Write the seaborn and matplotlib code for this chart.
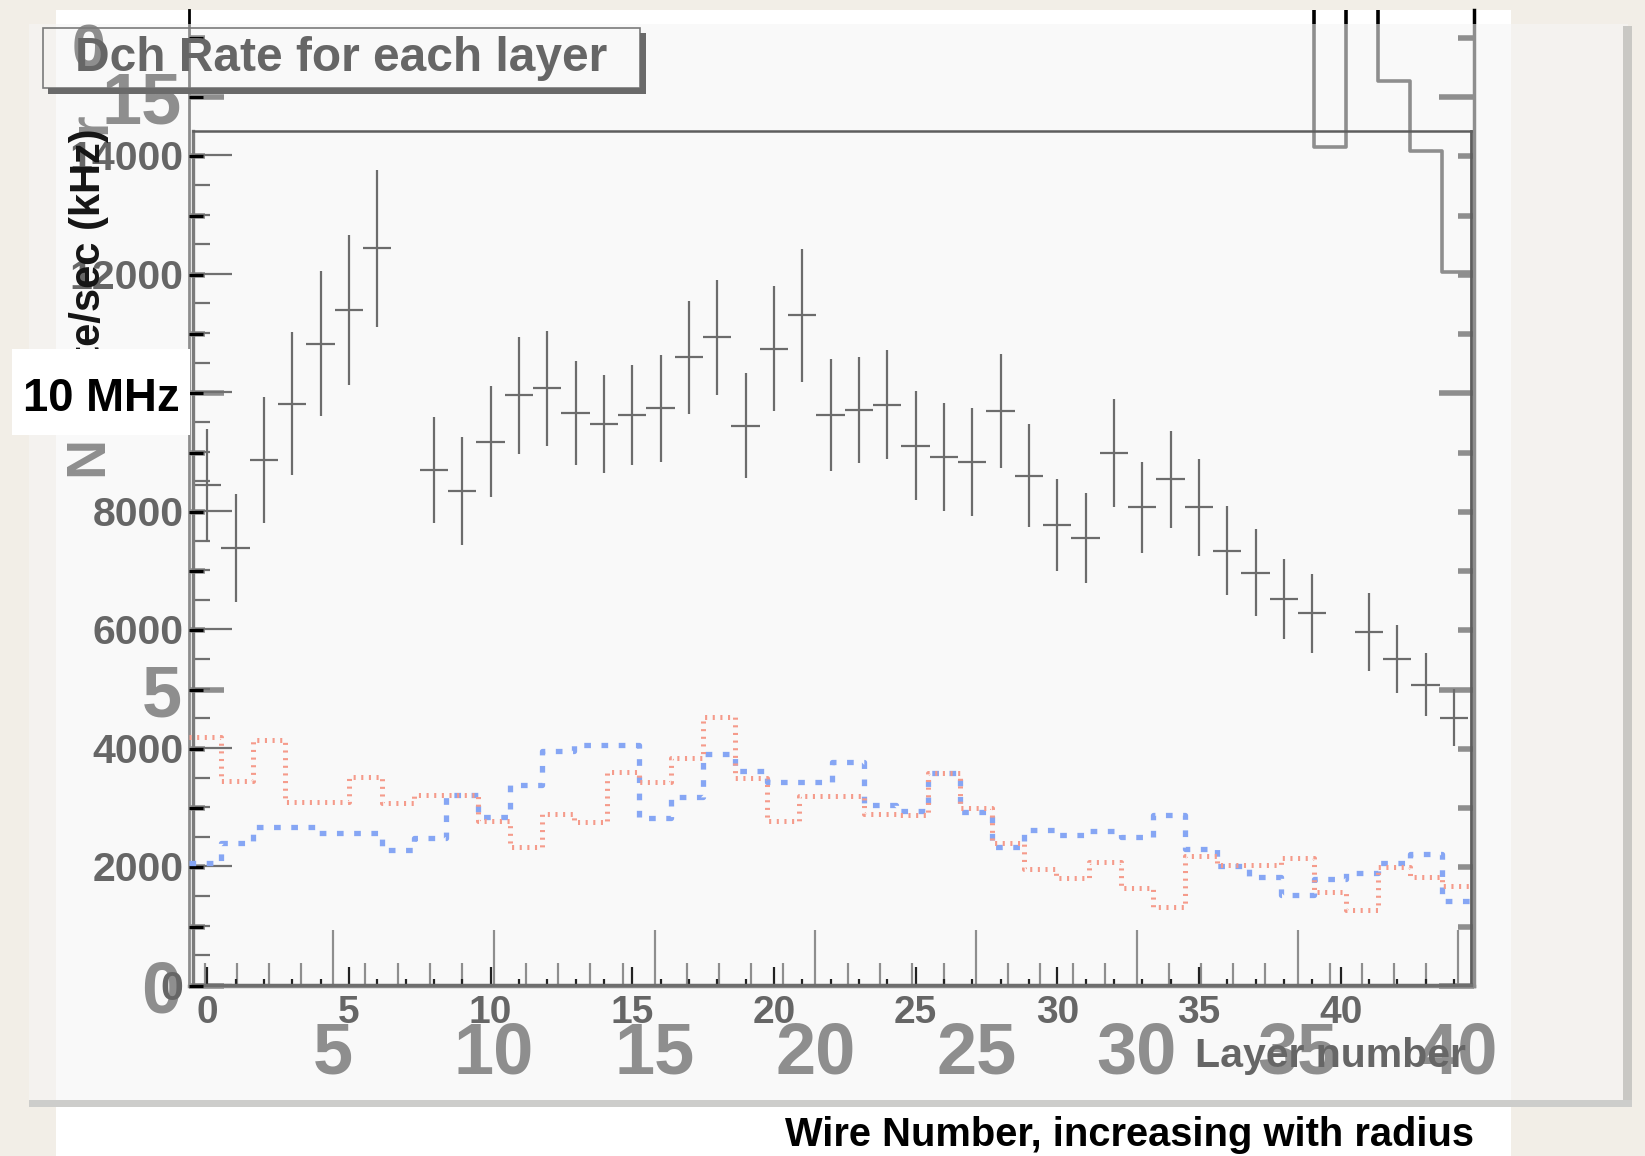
import numpy as np
import pandas as pd
import matplotlib
matplotlib.use("Agg")
import matplotlib.pyplot as plt
from matplotlib import font_manager
from matplotlib.patches import Rectangle
from matplotlib.ticker import FixedLocator, MultipleLocator
import seaborn as sns

# ---------------- data ----------------
# Drift-chamber rate per layer (kHz) with its uncertainty
layers = list(range(45))
layer_rate = [8430, 7370, 8860, 9810, 10820, 11390, 12430, np.nan, 8690, 8340,
              9170, 9950, 10070, 9650, 9470, 9620, 9730, 10590, 10930, 9440,
              10740, 11300, 9620, 9700, 9790, 9100, 8910, 8830, 9680, 8590,
              7760, 7550, 8970, 8060, 8530, 8060, 7330, 6960, 6510, 6270,
              np.nan, 5950, 5500, 5070, 4510]
layer_err = [950, 910, 1070, 1200, 1220, 1270, 1320, 0, 900, 910,
             930, 990, 970, 880, 830, 850, 900, 950, 970, 890,
             1060, 1120, 950, 890, 920, 920, 910, 910, 960, 870,
             780, 760, 910, 770, 820, 820, 750, 740, 670, 670,
             0, 660, 570, 530, 480]
layer_ticks = [0, 5, 10, 15, 20, 25, 30, 35, 40]
rate_ticks = [0, 2000, 4000, 6000, 8000, 10000, 12000, 14000]

# Rate per wire (MHz), wires numbered outward with radius
wires = list(range(1, 41))
wire_rate_red = [4.20, 3.46, 4.15, 3.11, 3.11, 3.53, 3.09, 3.22, 3.22, 2.79,
                 2.35, 2.91, 2.76, 3.61, 3.44, 3.85, 4.54, 3.51, 2.78, 3.21,
                 3.21, 2.90, 2.89, 3.59, 3.00, 2.41, 1.97, 1.82, 2.10, 1.66,
                 1.34, 2.20, 2.05, 2.04, 2.16, 1.59, 1.29, 2.00, 1.84, 1.68]
wire_rate_blue = [2.07, 2.41, 2.68, 2.68, 2.58, 2.58, 2.29, 2.49, 3.22, 2.85,
                  3.40, 3.96, 4.06, 4.06, 2.84, 3.19, 3.92, 3.63, 3.44, 3.44,
                  3.78, 3.05, 2.95, 3.59, 2.93, 2.35, 2.64, 2.54, 2.62, 2.51,
                  2.89, 2.32, 2.03, 1.84, 1.54, 1.81, 1.91, 2.07, 2.22, 1.44]
outer_wires = [35, 36, 37, 38, 39, 40]
outer_wire_rate = [17.5, 14.16, 17.5, 15.27, 14.09, 12.05]
wire_ticks = [5, 10, 15, 20, 25, 30, 35, 40]
wire_rate_ticks = [0, 5, 10, 15]

wire_df = pd.DataFrame({"wire": wires, "red": wire_rate_red, "blue": wire_rate_blue})
outer_df = pd.DataFrame({"wire": outer_wires, "rate": outer_wire_rate})

# ---------------- style ----------------
W, H = 1645, 1156
plt.rcParams.update({
    "font.family": ["Liberation Sans", "DejaVu Sans"],
    "lines.scale_dashes": False,
})
avail = {f.name for f in font_manager.fontManager.ttflist}
NARROW_NAME = "Liberation Sans Narrow" if "Liberation Sans Narrow" in avail else "Liberation Sans"
nscale = 1.0 if NARROW_NAME == "Liberation Sans Narrow" else 0.82
NARROW = [NARROW_NAME, "DejaVu Sans"]
LABEL_GRAY = "#666666"

fig = plt.figure(figsize=(W / 100, H / 100), dpi=100, facecolor="#f2eee7")


def box(x0, y0, x1, y1):
    """Axes rectangle from pixel edges (y measured from the top)."""
    return [x0 / W, 1 - y1 / H, (x1 - x0) / W, (y1 - y0) / H]


def pixel_axes(z):
    ax = fig.add_axes([0, 0, 1, 1], zorder=z)
    ax.set_xlim(0, W)
    ax.set_ylim(H, 0)
    ax.axis("off")
    ax.patch.set_visible(False)
    return ax


# ---------------- white sheet with the wire-number plot ----------------
ax_bg = pixel_axes(0)
ax_bg.add_patch(Rectangle((56, 10), 1455, 1150, fc="white", ec="none"))
ax_bg.text(1474, 1117 + 35 * nscale, "Wire Number, increasing with radius",
           ha="right", va="baseline", fontsize=35 * nscale, family=NARROW,
           weight="bold", color="black")
ax_bg.text(88, 456, "N", rotation=90, ha="center", va="center", fontsize=40,
           family=NARROW, weight="bold", color="black")
ax_bg.text(91, 123, "r", rotation=90, ha="center", va="center", fontsize=40,
           family=NARROW, weight="bold", color="black")
ax_bg.text(89, 52, "0", ha="center", va="center", fontsize=44,
           family=NARROW, weight="bold", color="black")

ax_g = fig.add_axes(box(188.7, 10, 1474.3, 986), zorder=1)
ax_g.patch.set_visible(False)
sns.histplot(data=outer_df, x="wire", weights="rate",
             binwidth=1, binrange=(34.5, 40.5), element="step", fill=False,
             color="black", linewidth=2.6, ax=ax_g)
ax_g.set_xlim(0.5, 40.5)
ax_g.set_ylim(0, 16.47)
ax_g.set_xlabel("")
ax_g.set_ylabel("")
ax_g.xaxis.set_major_locator(FixedLocator(wire_ticks))
ax_g.xaxis.set_minor_locator(MultipleLocator(1))
ax_g.yaxis.set_major_locator(FixedLocator(wire_rate_ticks))
ax_g.yaxis.set_minor_locator(MultipleLocator(1))
ax_g.set_xticklabels([str(t) for t in wire_ticks])
ax_g.set_yticklabels([str(t) for t in wire_rate_ticks])
ax_g.tick_params(axis="x", which="major", direction="in", length=40, width=1.6,
                 color="black", bottom=True, top=False, pad=25,
                 labelsize=52, labelcolor="black")
ax_g.tick_params(axis="x", which="minor", direction="in", length=16.5,
                 width=1.6, color="black", bottom=True, top=False)
ax_g.tick_params(axis="y", which="major", direction="in", length=25, width=4,
                 color="black", left=True, right=True, pad=5,
                 labelsize=52, labelcolor="black")
ax_g.tick_params(axis="y", which="minor", direction="in", length=11.5, width=4,
                 color="black", left=True, right=True)
for lab in ax_g.get_xticklabels() + ax_g.get_yticklabels():
    lab.set_family(NARROW)
    lab.set_weight("bold")
ax_g.spines["top"].set_visible(False)
for side, lw in (("left", 2.0), ("right", 2.5), ("bottom", 2.5)):
    ax_g.spines[side].set_color("black")
    ax_g.spines[side].set_linewidth(lw)

# ---------------- translucent canvas panel ----------------
ax_p = pixel_axes(2)
ax_p.add_patch(Rectangle((29, 24), 1599, 1078, fc="#f6f6f6", ec="none", alpha=0.58))
ax_p.add_patch(Rectangle((1623, 26), 9, 1081, fc="#c9c8c4", ec="none"))
ax_p.add_patch(Rectangle((29, 1100), 1603, 7, fc="#cdcdcb", ec="none"))

# ---------------- Dch rate per layer ----------------
ax_m = fig.add_axes(box(193, 131, 1471, 985), zorder=3)
ax_m.patch.set_visible(False)
ax_m.errorbar(layers, layer_rate, yerr=layer_err, xerr=0.5, fmt="none",
              ecolor="#6c6c6c", elinewidth=1.6, capsize=0)
ax_m.set_xlim(-0.5, 44.6)
ax_m.set_ylim(0, 14410)
ax_m.xaxis.set_major_locator(FixedLocator(layer_ticks))
ax_m.xaxis.set_minor_locator(MultipleLocator(1))
ax_m.yaxis.set_major_locator(FixedLocator(rate_ticks))
ax_m.yaxis.set_minor_locator(MultipleLocator(500))
ax_m.set_xticklabels([str(t) for t in layer_ticks])
ax_m.set_yticklabels([str(t) for t in rate_ticks])
ax_m.tick_params(axis="x", which="major", direction="in", length=13, width=1.6,
                 color="#222222", bottom=True, top=False, pad=7,
                 labelsize=28, labelcolor=LABEL_GRAY)
ax_m.tick_params(axis="x", which="minor", direction="in", length=4.3, width=1.6,
                 color="#222222", bottom=True, top=False)
ax_m.tick_params(axis="y", which="major", direction="in", length=28, width=1.6,
                 color="#707070", left=True, right=False, pad=7,
                 labelsize=29.5, labelcolor=LABEL_GRAY)
ax_m.tick_params(axis="y", which="minor", direction="in", length=12, width=1.6,
                 color="#707070", left=True, right=False)
for lab in ax_m.get_xticklabels() + ax_m.get_yticklabels():
    lab.set_weight("bold")
ax_m.spines["left"].set_color("#7c7c7c")
ax_m.spines["left"].set_linewidth(2.4)
ax_m.spines["bottom"].set_color("#6e6e6e")
ax_m.spines["bottom"].set_linewidth(2.5)
ax_m.spines["top"].set_color("#5e5e5e")
ax_m.spines["top"].set_linewidth(1.8)
ax_m.spines["right"].set_color("#5e5e5e")
ax_m.spines["right"].set_linewidth(2.0)

# ---------------- per-wire rates drawn as step outlines ----------------
ax_s = fig.add_axes(box(188.7, 10, 1474.3, 986), zorder=4)
ax_s.patch.set_visible(False)
sns.histplot(data=wire_df, x="wire", weights="blue", binwidth=1,
             binrange=(0.5, 40.5), element="step", fill=False,
             color="#86a6f4", linewidth=3.8, linestyle=(0, (4.8, 7.6)), ax=ax_s)
sns.histplot(data=wire_df, x="wire", weights="red", binwidth=1,
             binrange=(0.5, 40.5), element="step", fill=False,
             color="#f59b8b", linewidth=3.6, linestyle=(0, (1.5, 4.0)), ax=ax_s)
ax_s.set_xlim(0.5, 40.5)
ax_s.set_ylim(0, 16.47)
ax_s.set_xlabel("")
ax_s.set_ylabel("")
ax_s.set_xticks([])
ax_s.yaxis.set_major_locator(MultipleLocator(1))
ax_s.tick_params(axis="y", which="major", direction="in", length=10, width=2.2,
                 color="black", left=True, right=False, labelleft=False)
for sp in ax_s.spines.values():
    sp.set_visible(False)

# ---------------- title, labels and the rate marker ----------------
ax_t = pixel_axes(5)
ax_t.add_patch(Rectangle((43, 28), 597, 60, fill=False, ec="#7a7a7a", lw=1.2))
ax_t.add_patch(Rectangle((640, 33), 6, 61, fc="#6a6a6a", ec="none"))
ax_t.add_patch(Rectangle((48, 88), 598, 6, fc="#6a6a6a", ec="none"))
ax_t.text(341, 71, "Dch Rate for each layer", ha="center", va="baseline",
          fontsize=34.5, weight="bold", color=LABEL_GRAY)
ax_t.text(89, 128, "Rate/sec (kHz)", rotation=90, ha="center", va="top",
          fontsize=30, weight="bold", color="#151515")
ax_t.text(1466, 1067, "Layer number", ha="right", va="baseline",
          fontsize=29.5, weight="bold", color=LABEL_GRAY)
ax_t.add_patch(Rectangle((12, 349), 178, 86, fc="white", ec="none", zorder=4))
ax_t.text(101, 411, "10 MHz", ha="center", va="baseline",
          fontsize=40 * nscale, family=NARROW, weight="bold", color="black",
          zorder=5)

fig.savefig("out.png", dpi=100, facecolor=fig.get_facecolor())
